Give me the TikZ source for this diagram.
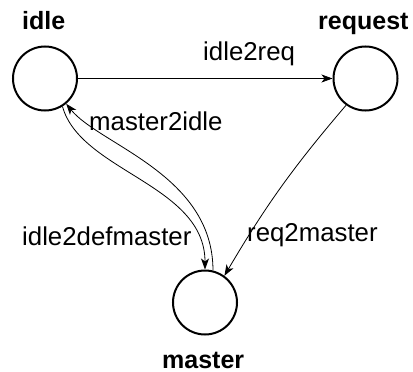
\documentclass[tikz,border=0pt]{standalone}
\usepackage{fontspec}
\setmainfont{Liberation Sans}
\usetikzlibrary{arrows.meta}
\begin{document}
\begin{tikzpicture}[x=1pt,y=-1pt,
  state/.style={circle,draw,line width=2pt,minimum size=64pt,inner sep=0pt},
  title/.style={inner sep=0pt,anchor=base west,font=\fontsize{25}{30}\selectfont\bfseries},
  edgelabel/.style={inner sep=0pt,anchor=base west,font=\fontsize{25.8}{30}\selectfont},
  trans/.style={line width=0.8pt,-{Stealth[length=11pt,width=8pt,inset=3pt]}}]
  \useasboundingbox (0,0) rectangle (413,372);

  % states
  \node[state] (idle) at (45,78.5) {};
  \node[state] (request) at (365.5,78.5) {};
  \node[state] (master) at (205,302.5) {};

  % state names
  \node[title] (tidle) at (22,30) {idle};
  \node[title] (trequest) at (318,30) {request};
  \node[title] (tmaster) at (162,368) {master};

  % transition names
  \node[edgelabel] (lidle2req) at (203,60) {idle2req};
  \node[edgelabel] (lmaster2idle) at (89,130) {master2idle};
  \node[edgelabel] (lidle2def) at (22,245) {idle2defmaster};
  \node[edgelabel] (lreq2master) at (247,241) {req2master};

  % transitions
  \draw[trans] (idle) -- (request);
  \draw[trans] (request.234) to[bend right=5] (master.54);
  \draw[trans] (idle.-58) .. controls +(18,65) and +(0,-85) .. (master.90);
  \draw[trans] (master.76) .. controls +(0,-96) and +(33,41) .. (idle.-50);
\end{tikzpicture}
\end{document}
